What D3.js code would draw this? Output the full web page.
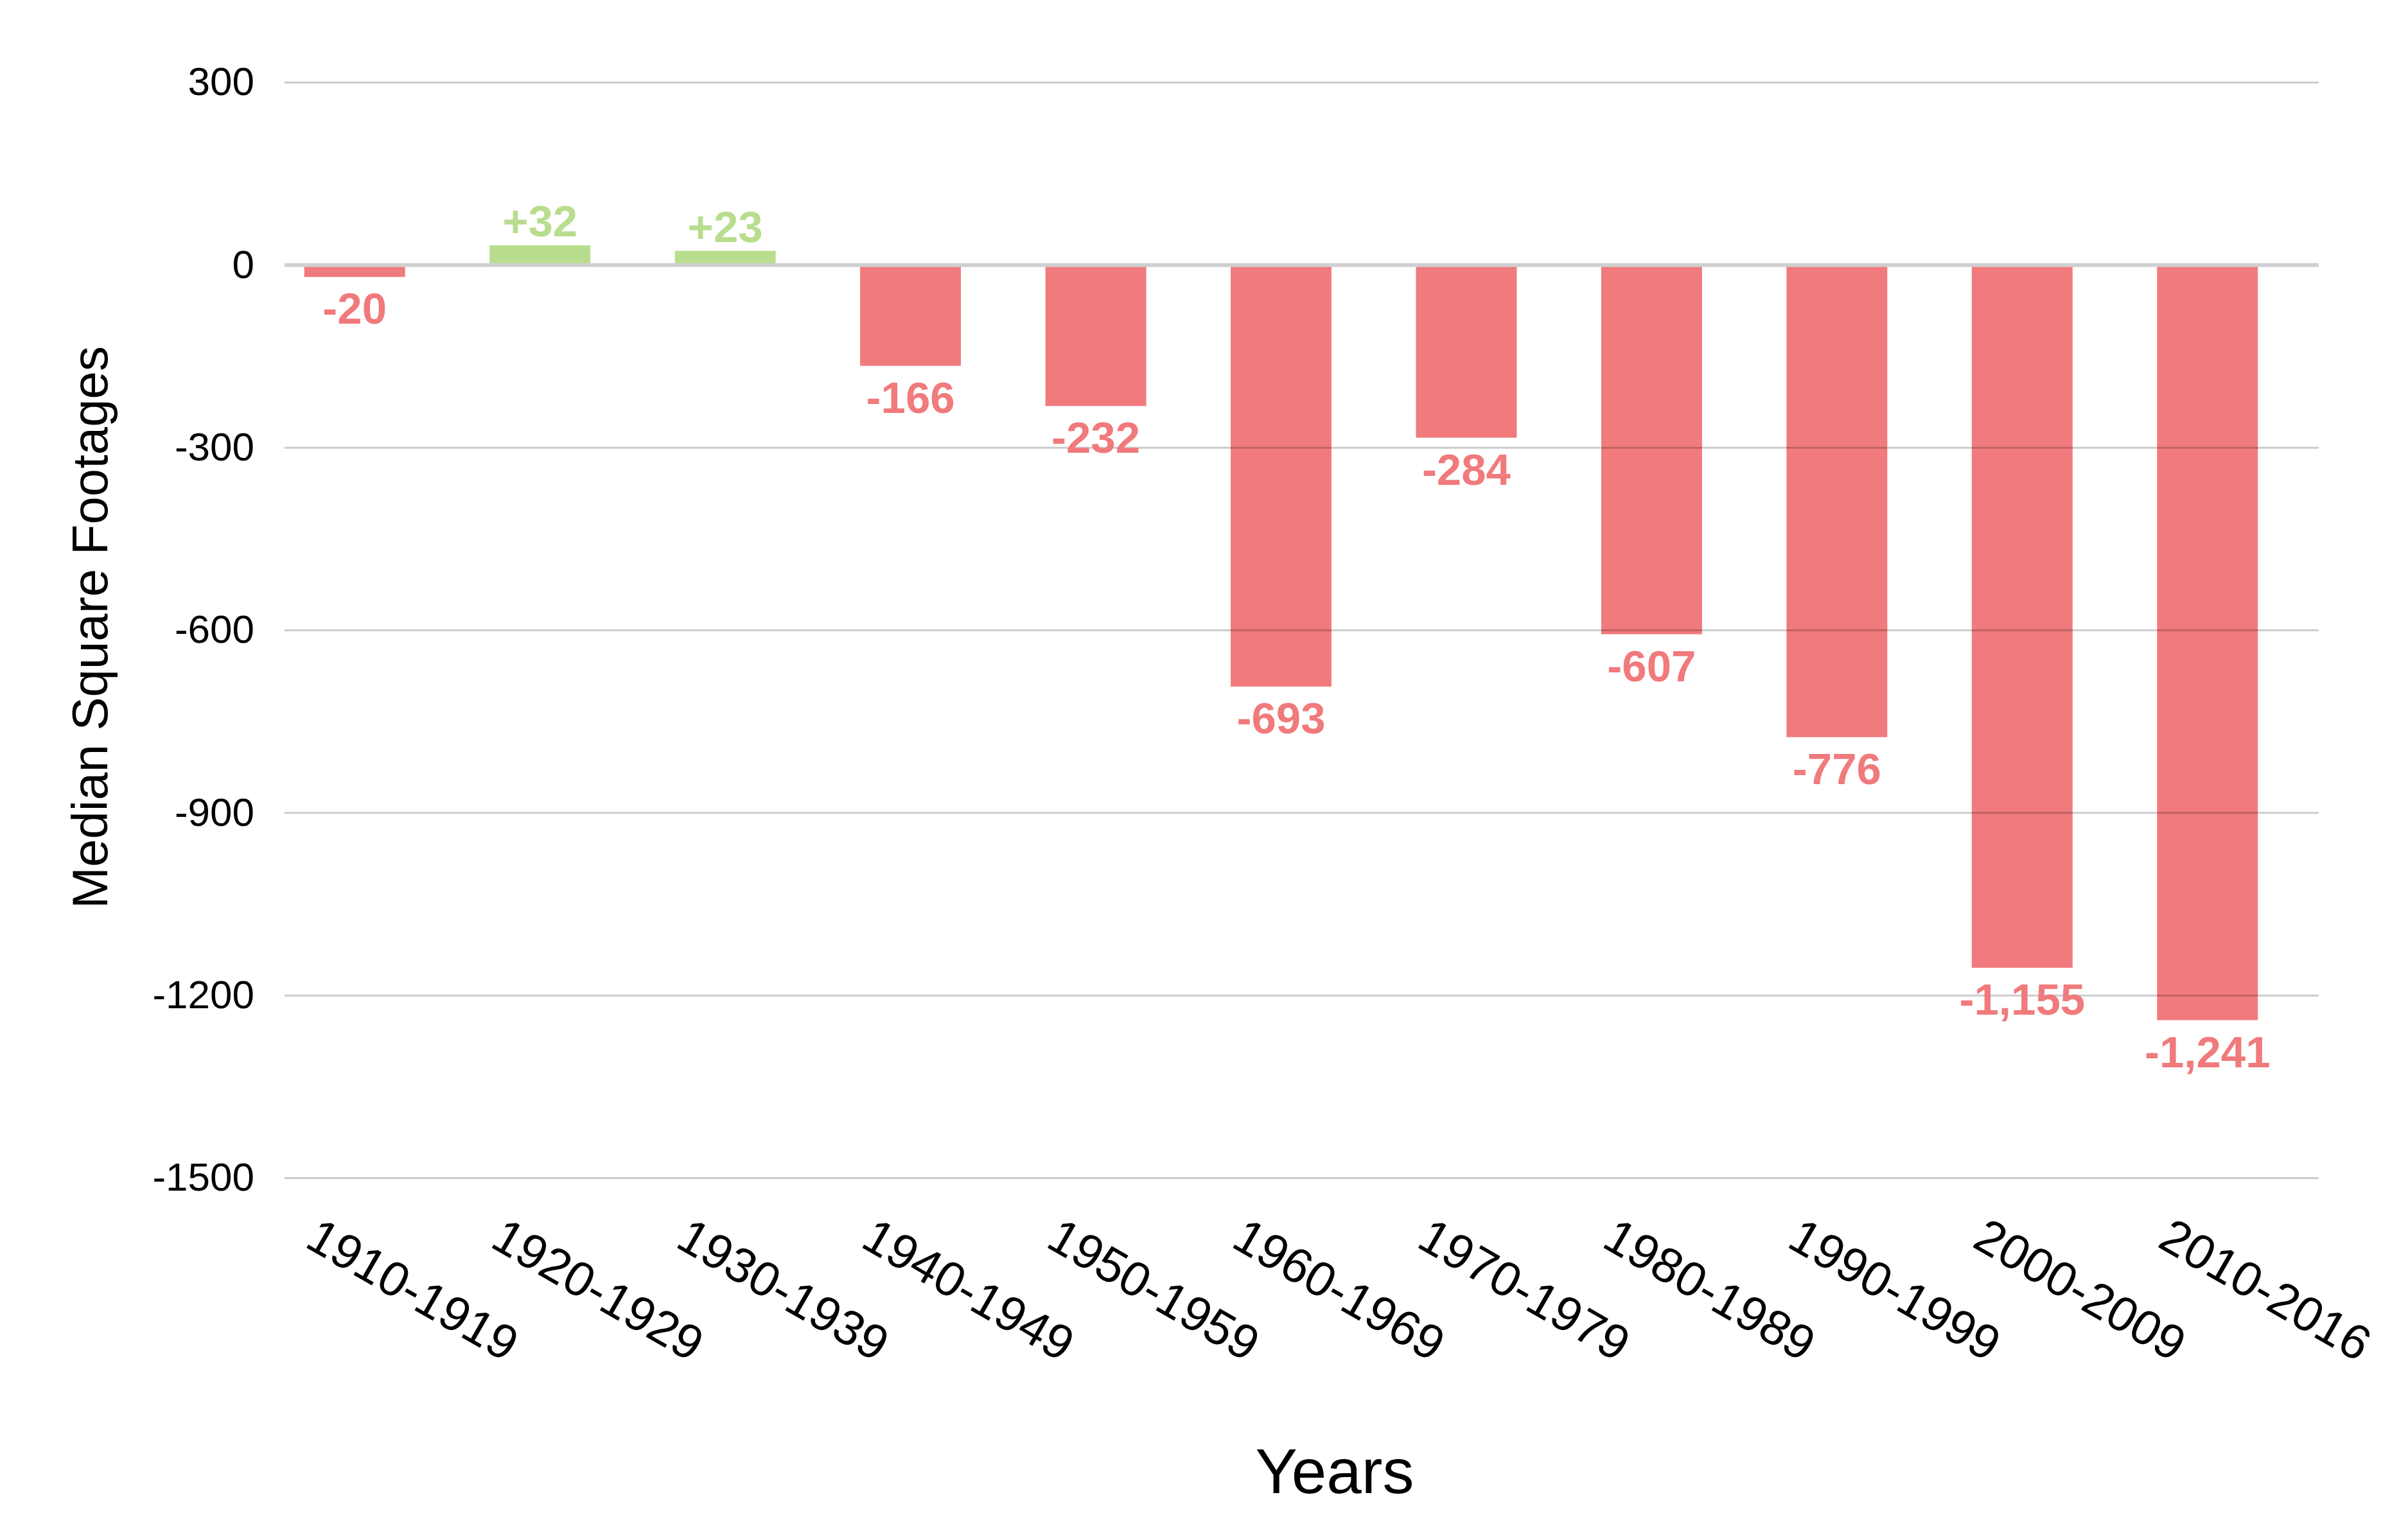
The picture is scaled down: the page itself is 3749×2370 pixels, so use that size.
<!DOCTYPE html>
<html lang="en">
<head>
    <meta charset="UTF-8">
    <title>Median Square Footages by Decade</title>
    <script src="https://d3js.org/d3.v7.min.js"></script>
    <style>
        body {
            margin: 0;
            background: #ffffff;
        }
        text {
            font-family: "Liberation Sans", Arial, Helvetica, sans-serif;
        }
    </style>
</head>
<body>
    <div id="chart"></div>

    <script>
        // Data
        const decades = ["1910-1919", "1920-1929", "1930-1939", "1940-1949", "1950-1959",
            "1960-1969", "1970-1979", "1980-1989", "1990-1999", "2000-2009", "2010-2016"];
        const changes = [-20, 32, 23, -166, -232, -693, -284, -607, -776, -1155, -1241];
        const yTicks = [300, 0, -300, -600, -900, -1200, -1500];

        const width = 3749;
        const height = 2370;

        const colors = {
            negative: "#f07a7c",
            positive: "#b8dd8e",
            grid: "#cccccc",
            zero: "#cfcfd1",
            text: "#000000"
        };

        // plot area
        const gridLeft = 443;
        const gridRight = 3610;

        const svg = d3.select("#chart")
            .append("svg")
            .attr("width", width)
            .attr("height", height)
            .style("background", "#ffffff");

        const x = d3.scaleBand()
            .domain(decades)
            .range([408, 3581])
            .paddingInner(0.456)
            .paddingOuter(0.228);

        const y = d3.scaleLinear()
            .domain([-1500, 300])
            .range([1834, 128]);

        // hyphen minus instead of the unicode one
        const locale = d3.formatLocale({
            decimal: ".",
            thousands: ",",
            grouping: [3],
            currency: ["$", ""],
            minus: "-"
        });
        const tickFormat = locale.format("d");
        const valueFormat = locale.format("+,");

        const rows = decades.map((d, i) => ({ decade: d, value: changes[i] }));

        // Bars
        svg.append("g")
            .selectAll("rect")
            .data(rows)
            .join("rect")
            .attr("x", d => x(d.decade))
            .attr("width", x.bandwidth())
            .attr("y", d => y(Math.max(0, d.value)))
            .attr("height", d => Math.abs(y(d.value) - y(0)))
            .attr("fill", d => d.value < 0 ? colors.negative : colors.positive);

        // Gridlines + y tick labels (drawn over bars, multiplied so they show through)
        const yAxis = svg.append("g")
            .attr("transform", `translate(${gridLeft},0)`)
            .call(d3.axisLeft(y)
                .tickValues(yTicks)
                .tickFormat(tickFormat)
                .tickSize(-(gridRight - gridLeft))
                .tickPadding(47));

        yAxis.select(".domain").remove();
        yAxis.selectAll(".tick line")
            .attr("stroke", colors.grid)
            .attr("stroke-width", 3)
            .style("mix-blend-mode", "multiply");
        yAxis.selectAll(".tick line")
            .filter(d => d === 0)
            .attr("stroke", colors.zero)
            .attr("stroke-width", 6)
            .style("mix-blend-mode", "normal");
        yAxis.selectAll(".tick text")
            .attr("fill", colors.text)
            .style("font-size", "62px");

        // Value labels
        svg.append("g")
            .selectAll("text")
            .data(rows)
            .join("text")
            .attr("x", d => x(d.decade) + x.bandwidth() / 2)
            .attr("y", d => d.value < 0 ? y(d.value) + 73 : y(d.value) - 14)
            .attr("text-anchor", "middle")
            .attr("fill", d => d.value < 0 ? colors.negative : colors.positive)
            .style("font-size", "69px")
            .style("font-weight", "bold")
            .text(d => valueFormat(d.value));

        // Rotated decade labels
        svg.append("g")
            .selectAll("text")
            .data(decades)
            .join("text")
            .attr("transform", d => `translate(${x(d) + x.bandwidth() / 2 - 80},1940) rotate(30)`)
            .attr("text-anchor", "start")
            .attr("fill", colors.text)
            .style("font-size", "76px")
            .text(d => d);

        // Axis titles
        svg.append("text")
            .attr("x", 2078)
            .attr("y", 2325)
            .attr("text-anchor", "middle")
            .attr("fill", colors.text)
            .style("font-size", "98px")
            .text("Years");

        svg.append("text")
            .attr("transform", "translate(167,977) rotate(-90)")
            .attr("text-anchor", "middle")
            .attr("fill", colors.text)
            .style("font-size", "78px")
            .text("Median Square Footages");
    </script>
</body>
</html>
